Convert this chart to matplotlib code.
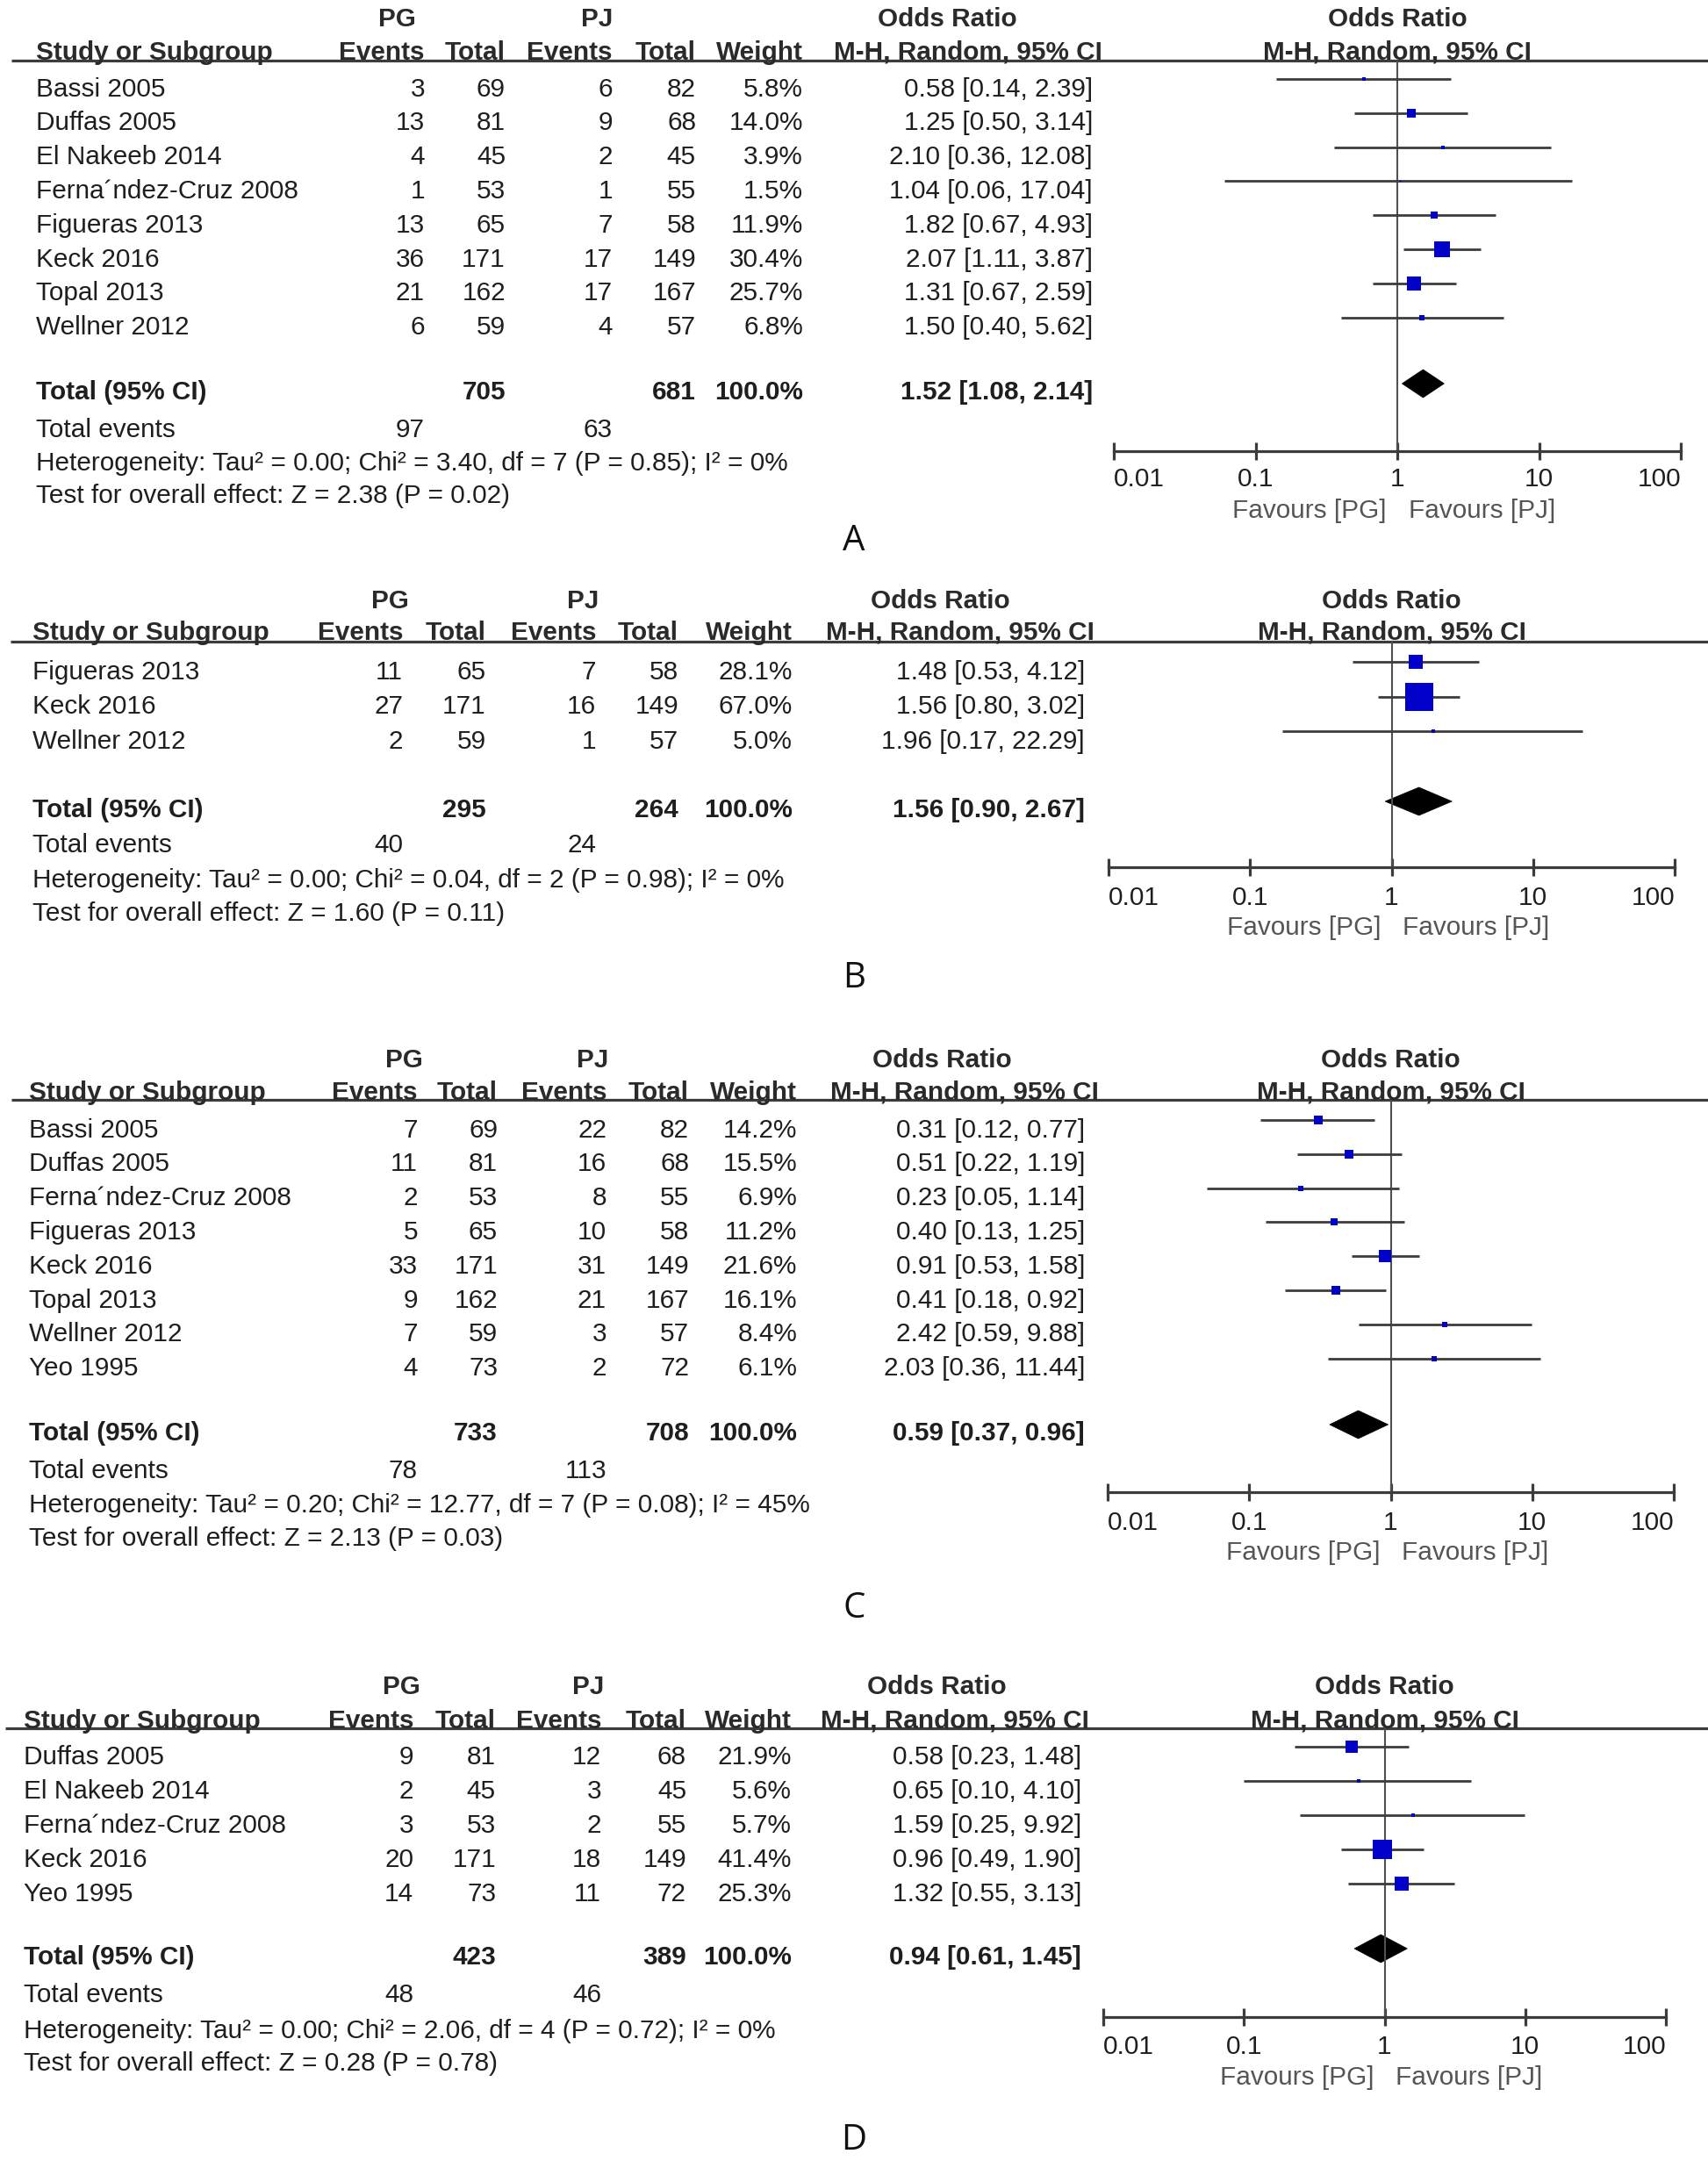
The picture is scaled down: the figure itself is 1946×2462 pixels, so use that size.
import matplotlib
matplotlib.use("Agg")
import matplotlib.pyplot as plt
from matplotlib.patches import Polygon

# ---------------- data ----------------
A_studies = ["Bassi 2005", "Duffas 2005", "El Nakeeb 2014", "Ferna\u00b4ndez-Cruz 2008",
             "Figueras 2013", "Keck 2016", "Topal 2013", "Wellner 2012"]
A_pg_events = [3, 13, 4, 1, 13, 36, 21, 6]
A_pg_total = [69, 81, 45, 53, 65, 171, 162, 59]
A_pj_events = [6, 9, 2, 1, 7, 17, 17, 4]
A_pj_total = [82, 68, 45, 55, 58, 149, 167, 57]
A_weight = [5.8, 14.0, 3.9, 1.5, 11.9, 30.4, 25.7, 6.8]
A_or = [0.58, 1.25, 2.10, 1.04, 1.82, 2.07, 1.31, 1.50]
A_lo = [0.14, 0.50, 0.36, 0.06, 0.67, 1.11, 0.67, 0.40]
A_hi = [2.39, 3.14, 12.08, 17.04, 4.93, 3.87, 2.59, 5.62]
A_totals = [705, 681]
A_events = [97, 63]
A_pooled = [1.52, 1.08, 2.14]
A_het = "Heterogeneity: Tau\u00b2 = 0.00; Chi\u00b2 = 3.40, df = 7 (P = 0.85); I\u00b2 = 0%"
A_test = "Test for overall effect: Z = 2.38 (P = 0.02)"

B_studies = ["Figueras 2013", "Keck 2016", "Wellner 2012"]
B_pg_events = [11, 27, 2]
B_pg_total = [65, 171, 59]
B_pj_events = [7, 16, 1]
B_pj_total = [58, 149, 57]
B_weight = [28.1, 67.0, 5.0]
B_or = [1.48, 1.56, 1.96]
B_lo = [0.53, 0.80, 0.17]
B_hi = [4.12, 3.02, 22.29]
B_totals = [295, 264]
B_events = [40, 24]
B_pooled = [1.56, 0.90, 2.67]
B_het = "Heterogeneity: Tau\u00b2 = 0.00; Chi\u00b2 = 0.04, df = 2 (P = 0.98); I\u00b2 = 0%"
B_test = "Test for overall effect: Z = 1.60 (P = 0.11)"

C_studies = ["Bassi 2005", "Duffas 2005", "Ferna\u00b4ndez-Cruz 2008", "Figueras 2013",
             "Keck 2016", "Topal 2013", "Wellner 2012", "Yeo 1995"]
C_pg_events = [7, 11, 2, 5, 33, 9, 7, 4]
C_pg_total = [69, 81, 53, 65, 171, 162, 59, 73]
C_pj_events = [22, 16, 8, 10, 31, 21, 3, 2]
C_pj_total = [82, 68, 55, 58, 149, 167, 57, 72]
C_weight = [14.2, 15.5, 6.9, 11.2, 21.6, 16.1, 8.4, 6.1]
C_or = [0.31, 0.51, 0.23, 0.40, 0.91, 0.41, 2.42, 2.03]
C_lo = [0.12, 0.22, 0.05, 0.13, 0.53, 0.18, 0.59, 0.36]
C_hi = [0.77, 1.19, 1.14, 1.25, 1.58, 0.92, 9.88, 11.44]
C_totals = [733, 708]
C_events = [78, 113]
C_pooled = [0.59, 0.37, 0.96]
C_het = "Heterogeneity: Tau\u00b2 = 0.20; Chi\u00b2 = 12.77, df = 7 (P = 0.08); I\u00b2 = 45%"
C_test = "Test for overall effect: Z = 2.13 (P = 0.03)"

D_studies = ["Duffas 2005", "El Nakeeb 2014", "Ferna\u00b4ndez-Cruz 2008", "Keck 2016", "Yeo 1995"]
D_pg_events = [9, 2, 3, 20, 14]
D_pg_total = [81, 45, 53, 171, 73]
D_pj_events = [12, 3, 2, 18, 11]
D_pj_total = [68, 45, 55, 149, 72]
D_weight = [21.9, 5.6, 5.7, 41.4, 25.3]
D_or = [0.58, 0.65, 1.59, 0.96, 1.32]
D_lo = [0.23, 0.10, 0.25, 0.49, 0.55]
D_hi = [1.48, 4.10, 9.92, 1.90, 3.13]
D_totals = [423, 389]
D_events = [48, 46]
D_pooled = [0.94, 0.61, 1.45]
D_het = "Heterogeneity: Tau\u00b2 = 0.00; Chi\u00b2 = 2.06, df = 4 (P = 0.72); I\u00b2 = 0%"
D_test = "Test for overall effect: Z = 0.28 (P = 0.78)"

tick_values = [0.01, 0.1, 1, 10, 100]
tick_labels = ["0.01", "0.1", "1", "10", "100"]
panel_letters = ["A", "B", "C", "D"]

# ---------------- layout (pixels) ----------------
W, H = 1946, 2462
layouts = [
    dict(header=19, col=57, line=69, row0=99, sp=38.8, total=444, events=487, het=525, test=562,
         axis=514, ticks=543, fav=579, letter=617,
         study=41, pge=484, pgt=576, pje=698, pjt=793, wt=915, orx=1245, mhx=1256,
         pgc=452, pjc=680, orc=1079, x0=13, xlo=1269, xhi=1915),
    dict(header=682, col=718, line=731, row0=763, sp=39.5, total=920, events=960, het=1000, test=1038,
         axis=988, ticks=1020, fav=1054, letter=1115,
         study=37, pge=459, pgt=554, pje=679, pjt=773, wt=903, orx=1236, mhx=1247,
         pgc=444, pjc=664, orc=1071, x0=12, xlo=1263, xhi=1908),
    dict(header=1205, col=1242, line=1253, row0=1285, sp=38.8, total=1630, events=1673, het=1712, test=1750,
         axis=1700, ticks=1732, fav=1766, letter=1833,
         study=33, pge=476, pgt=567, pje=691, pjt=785, wt=908, orx=1236, mhx=1252,
         pgc=460, pjc=675, orc=1073, x0=13, xlo=1262, xhi=1907),
    dict(header=1919, col=1958, line=1969, row0=1999, sp=39.0, total=2227, events=2270, het=2311, test=2348,
         axis=2298, ticks=2329, fav=2364, letter=2439,
         study=27, pge=471, pgt=565, pje=685, pjt=782, wt=902, orx=1232, mhx=1241,
         pgc=457, pjc=670, orc=1067, x0=6, xlo=1257, xhi=1898),
]

panels = [
    (A_studies, A_pg_events, A_pg_total, A_pj_events, A_pj_total, A_weight, A_or, A_lo, A_hi,
     A_totals, A_events, A_pooled, A_het, A_test),
    (B_studies, B_pg_events, B_pg_total, B_pj_events, B_pj_total, B_weight, B_or, B_lo, B_hi,
     B_totals, B_events, B_pooled, B_het, B_test),
    (C_studies, C_pg_events, C_pg_total, C_pj_events, C_pj_total, C_weight, C_or, C_lo, C_hi,
     C_totals, C_events, C_pooled, C_het, C_test),
    (D_studies, D_pg_events, D_pg_total, D_pj_events, D_pj_total, D_weight, D_or, D_lo, D_hi,
     D_totals, D_events, D_pooled, D_het, D_test),
]

FONT = "Liberation Sans"
FS = 21.4
TXT = "#1e1e1e"
HDR = "#2a2a2a"
GRAY = "#555555"
LINE = "#3c3c3c"
BLUE = "#0000c8"
CAP = FS * 100 / 72 * 0.716 / 2  # half cap-height in px -> baseline offset
MARK_OFF = -9

fig = plt.figure(figsize=(W / 100, H / 100), dpi=100)
fig.patch.set_facecolor("white")
base = fig.add_axes([0, 0, 1, 1])
base.set_xlim(0, W)
base.set_ylim(H, 0)
base.axis("off")


def t(x, y, s, ha="left", bold=False, color=TXT, ax=base, size=FS, family=FONT):
    ax.text(x, y + CAP, s, ha=ha, va="baseline", fontsize=size, family=family,
            fontweight="bold" if bold else "normal", color=color, clip_on=False)


for L, P, letter in zip(layouts, panels, panel_letters):
    (studies, pge, pgt, pje, pjt, wts, ors, los, his, totals, events, pooled, het, test) = P

    # headers
    t(L["pgc"], L["header"], "PG", ha="center", bold=True, color=HDR)
    t(L["pjc"], L["header"], "PJ", ha="center", bold=True, color=HDR)
    t(L["orc"], L["header"], "Odds Ratio", ha="center", bold=True, color=HDR)
    t(L["study"], L["col"], "Study or Subgroup", bold=True, color=HDR)
    t(L["pge"], L["col"], "Events", ha="right", bold=True, color=HDR)
    t(L["pgt"], L["col"], "Total", ha="right", bold=True, color=HDR)
    t(L["pje"], L["col"], "Events", ha="right", bold=True, color=HDR)
    t(L["pjt"], L["col"], "Total", ha="right", bold=True, color=HDR)
    t(L["wt"], L["col"], "Weight", ha="right", bold=True, color=HDR)
    t(L["mhx"], L["col"], "M-H, Random, 95% CI", ha="right", bold=True, color=HDR)
    base.plot([L["x0"], W], [L["line"], L["line"]], color=LINE, lw=2.3, solid_capstyle="butt")

    # forest axes
    fa = fig.add_axes([L["xlo"] / W, 1 - L["axis"] / H, (L["xhi"] - L["xlo"]) / W,
                       (L["axis"] - L["line"]) / H])
    fa.set_xscale("log")
    fa.set_xlim(tick_values[0], tick_values[-1])
    fa.set_ylim(L["axis"], L["line"])
    fa.patch.set_alpha(0)
    for s in ["left", "right", "top"]:
        fa.spines[s].set_visible(False)
    fa.spines["bottom"].set_linewidth(2.3)
    fa.spines["bottom"].set_color(LINE)
    fa.set_yticks([])
    fa.set_xticks(tick_values)
    fa.set_xticklabels([])
    fa.xaxis.set_minor_locator(matplotlib.ticker.NullLocator())
    fa.tick_params(axis="x", direction="inout", length=14, width=2.3, color=LINE)
    fa.axvline(1, color="#505050", lw=1.5)

    for i, (tv, tl) in enumerate(zip(tick_values, tick_labels)):
        ha = "left" if i == 0 else ("right" if i == len(tick_values) - 1 else "center")
        t(tv, L["ticks"], tl, ha=ha, ax=fa, color=TXT)
    t(1, L["header"], "Odds Ratio", ha="center", bold=True, color=HDR, ax=fa)
    t(1, L["col"], "M-H, Random, 95% CI", ha="center", bold=True, color=HDR, ax=fa)
    fa.text(0.84, L["fav"] + CAP, "Favours [PG]", ha="right", va="baseline", fontsize=FS,
            family=FONT, color=GRAY, clip_on=False)
    fa.text(1.2, L["fav"] + CAP, "Favours [PJ]", ha="left", va="baseline", fontsize=FS,
            family=FONT, color=GRAY, clip_on=False)

    # rows
    for i, name in enumerate(studies):
        y = L["row0"] + i * L["sp"]
        t(L["study"], y, name)
        t(L["pge"], y, str(pge[i]), ha="right")
        t(L["pgt"], y, str(pgt[i]), ha="right")
        t(L["pje"], y, str(pje[i]), ha="right")
        t(L["pjt"], y, str(pjt[i]), ha="right")
        t(L["wt"], y, f"{wts[i]:.1f}%", ha="right")
        t(L["orx"], y, f"{ors[i]:.2f} [{los[i]:.2f}, {his[i]:.2f}]", ha="right")
        ym = y + MARK_OFF
        fa.plot([los[i], his[i]], [ym, ym], color=LINE, lw=2.0, solid_capstyle="butt")
        side_px = 1.31 * wts[i] ** 0.76
        fa.plot([ors[i]], [ym], marker="s", ms=side_px * 0.72, color=BLUE, mec=BLUE, mew=0)

    # totals
    yT = L["total"]
    t(L["study"], yT, "Total (95% CI)", bold=True)
    t(L["pgt"], yT, str(totals[0]), ha="right", bold=True)
    t(L["pjt"], yT, str(totals[1]), ha="right", bold=True)
    t(L["wt"], yT, "100.0%", ha="right", bold=True)
    t(L["orx"], yT, f"{pooled[0]:.2f} [{pooled[1]:.2f}, {pooled[2]:.2f}]", ha="right", bold=True)
    yd = yT - 7
    hd = 16
    fa.add_patch(Polygon([(pooled[1], yd), (pooled[0], yd - hd), (pooled[2], yd), (pooled[0], yd + hd)],
                         closed=True, facecolor="black", edgecolor="black", lw=0.5))

    t(L["study"], L["events"], "Total events")
    t(L["pge"], L["events"], str(events[0]), ha="right")
    t(L["pje"], L["events"], str(events[1]), ha="right")
    t(L["study"], L["het"], het)
    t(L["study"], L["test"], test)

    base.text(973, L["letter"], letter, ha="center", va="center", fontsize=29,
              family="Open Sans", color="#111111")

fig.savefig("out.png", dpi=100, facecolor="white")
